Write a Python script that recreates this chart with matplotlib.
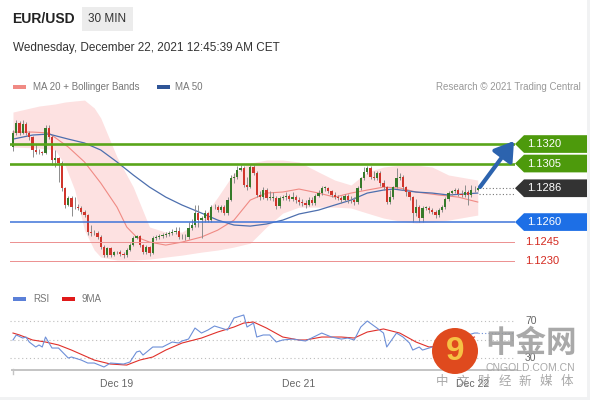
import numpy as np
import matplotlib.pyplot as plt
from matplotlib.patches import Polygon, Rectangle, Circle
from matplotlib.transforms import blended_transform_factory

plt.rcParams['font.family'] = ['Liberation Sans', 'DejaVu Sans']

# 30 min EUR/USD candles (open of each bar = previous close)
first_open = 1.13177
closes = [
    1.13285, 1.13362, 1.13285, 1.13354, 1.13285, 1.13254, 1.13154, 1.13138, 1.13138, 1.13131,
    1.13323, 1.13254, 1.13077, 1.13092, 1.13054, 1.12862, 1.12731, 1.12785, 1.12715, 1.12715,
    1.12708, 1.12677, 1.12654, 1.12523, 1.12515, 1.12515, 1.12485, 1.12408, 1.12346, 1.12400,
    1.12346, 1.12369, 1.12369, 1.12354, 1.12346, 1.12385, 1.12423, 1.12477, 1.12492, 1.12423,
    1.12369, 1.12408, 1.12362, 1.12477, 1.12485, 1.12492, 1.12500, 1.12508, 1.12515, 1.12523,
    1.12531, 1.12485, 1.12485, 1.12485, 1.12554, 1.12577, 1.12669, 1.12615, 1.12631, 1.12669,
    1.12615, 1.12715, 1.12715, 1.12692, 1.12715, 1.12669, 1.12769, 1.12938, 1.12946, 1.13000,
    1.13015, 1.12885, 1.12869, 1.13023, 1.12977, 1.12808, 1.12792, 1.12846, 1.12785, 1.12785,
    1.12785, 1.12723, 1.12785, 1.12792, 1.12800, 1.12777, 1.12792, 1.12769, 1.12754, 1.12746,
    1.12731, 1.12769, 1.12746, 1.12800, 1.12823, 1.12862, 1.12862, 1.12838, 1.12808, 1.12792,
    1.12785, 1.12769, 1.12800, 1.12769, 1.12769, 1.12754, 1.12862, 1.12938, 1.12985, 1.13015,
    1.12946, 1.12938, 1.12977, 1.12900, 1.12869, 1.12754, 1.12792, 1.12869, 1.12938, 1.12946,
    1.12869, 1.12831, 1.12792, 1.12669, 1.12715, 1.12631, 1.12708, 1.12708, 1.12692, 1.12677,
    1.12654, 1.12692, 1.12715, 1.12777, 1.12823, 1.12838, 1.12846, 1.12815, 1.12808, 1.12831,
    1.12808, 1.12846, 1.12850, 1.12865,
]
highs = [
    1.13310, 1.13385, 1.13380, 1.13385, 1.13370, 1.13300, 1.13265, 1.13200, 1.13160, 1.13150,
    1.13345, 1.13350, 1.13270, 1.13154, 1.13100, 1.13070, 1.12870, 1.12800, 1.12800, 1.12790,
    1.12740, 1.12720, 1.12690, 1.12660, 1.12577, 1.12540, 1.12530, 1.12500, 1.12420, 1.12410,
    1.12410, 1.12380, 1.12380, 1.12385, 1.12370, 1.12400, 1.12440, 1.12490, 1.12500, 1.12500,
    1.12430, 1.12420, 1.12415, 1.12490, 1.12500, 1.12510, 1.12515, 1.12525, 1.12530, 1.12545,
    1.12560, 1.12560, 1.12510, 1.12510, 1.12600, 1.12620, 1.12731, 1.12731, 1.12650, 1.12690,
    1.12680, 1.12730, 1.12740, 1.12730, 1.12730, 1.12730, 1.12790, 1.12960, 1.12980, 1.13030,
    1.13040, 1.13030, 1.12950, 1.13040, 1.13040, 1.12990, 1.12840, 1.12870, 1.12860, 1.12840,
    1.12830, 1.12800, 1.12800, 1.12810, 1.12830, 1.12815, 1.12830, 1.12805, 1.12790, 1.12780,
    1.12770, 1.12790, 1.12790, 1.12815, 1.12845, 1.12880, 1.12880, 1.12870, 1.12850, 1.12830,
    1.12810, 1.12800, 1.12815, 1.12815, 1.12800, 1.12790, 1.12880, 1.12950, 1.13023, 1.13031,
    1.13030, 1.12990, 1.12990, 1.12990, 1.12920, 1.12880, 1.12850, 1.12880, 1.13015, 1.12980,
    1.12960, 1.12880, 1.12840, 1.12800, 1.12780, 1.12730, 1.12720, 1.12725, 1.12725, 1.12710,
    1.12690, 1.12710, 1.12730, 1.12790, 1.12840, 1.12850, 1.12860, 1.12860, 1.12850, 1.12885,
    1.12850, 1.12885, 1.12880, 1.12880,
]
lows = [
    1.13150, 1.13270, 1.13270, 1.13275, 1.13270, 1.13230, 1.13100, 1.13120, 1.13120, 1.13115,
    1.13120, 1.13240, 1.13038, 1.13023, 1.12908, 1.12840, 1.12710, 1.12720, 1.12646, 1.12700,
    1.12690, 1.12660, 1.12640, 1.12500, 1.12490, 1.12500, 1.12470, 1.12390, 1.12331, 1.12331,
    1.12330, 1.12340, 1.12355, 1.12340, 1.12320, 1.12330, 1.12375, 1.12415, 1.12470, 1.12410,
    1.12355, 1.12355, 1.12340, 1.12355, 1.12465, 1.12470, 1.12480, 1.12485, 1.12490, 1.12500,
    1.12510, 1.12470, 1.12470, 1.12465, 1.12470, 1.12540, 1.12560, 1.12560, 1.12477, 1.12600,
    1.12600, 1.12600, 1.12700, 1.12680, 1.12680, 1.12654, 1.12654, 1.12760, 1.12900, 1.12930,
    1.12990, 1.12870, 1.12850, 1.12860, 1.12960, 1.12790, 1.12770, 1.12780, 1.12770, 1.12770,
    1.12760, 1.12700, 1.12710, 1.12770, 1.12770, 1.12760, 1.12760, 1.12750, 1.12730, 1.12720,
    1.12710, 1.12720, 1.12730, 1.12730, 1.12790, 1.12810, 1.12840, 1.12820, 1.12790, 1.12780,
    1.12770, 1.12750, 1.12760, 1.12750, 1.12750, 1.12730, 1.12740, 1.12850, 1.12920, 1.12970,
    1.12930, 1.12920, 1.12920, 1.12880, 1.12850, 1.12740, 1.12740, 1.12780, 1.12860, 1.12920,
    1.12850, 1.12800, 1.12770, 1.12600, 1.12650, 1.12600, 1.12600, 1.12690, 1.12670, 1.12660,
    1.12630, 1.12640, 1.12680, 1.12700, 1.12760, 1.12810, 1.12820, 1.12800, 1.12790, 1.12790,
    1.12731, 1.12790, 1.12830, 1.12840,
]

# moving averages / bollinger band, read at a few bars
ma20_idx = [0, 6, 11, 17, 22, 27, 32, 35, 38, 42, 47, 52, 58, 63, 68, 73, 78, 83, 88, 94,
            99, 104, 114, 119, 124, 131, 137, 143]
ma20 = [1.13292, 1.13292, 1.13285, 1.13177, 1.13062, 1.12900, 1.12715, 1.12562, 1.12485, 1.12446,
        1.12423, 1.12446, 1.12485, 1.12538, 1.12615, 1.12769, 1.12823, 1.12831, 1.12854, 1.12823,
        1.12792, 1.12823, 1.12869, 1.12862, 1.12831, 1.12808, 1.12792, 1.12754]
ma50_idx = [0, 6, 11, 17, 22, 27, 32, 37, 42, 47, 52, 58, 63, 68, 73, 78, 83, 88, 94, 99,
            104, 109, 114, 117, 124, 129, 134, 143]
ma50 = [1.13238, 1.13269, 1.13277, 1.13238, 1.13208, 1.13154, 1.13062, 1.12962, 1.12869, 1.12792,
        1.12731, 1.12669, 1.12615, 1.12577, 1.12569, 1.12585, 1.12615, 1.12662, 1.12692, 1.12731,
        1.12769, 1.12823, 1.12846, 1.12854, 1.12831, 1.12823, 1.12808, 1.12823]
band_idx = [0, 8, 13, 16, 19, 22, 25, 27, 32, 37, 42, 47, 52, 58, 63, 68, 73, 78, 83, 88,
            94, 99, 104, 109, 114, 119, 124, 129, 134, 143]
band_up = [1.13446, 1.13492, 1.13508, 1.13523, 1.13531, 1.13538, 1.13477, 1.13400, 1.13100, 1.12869,
           1.12562, 1.12523, 1.12523, 1.12615, 1.12792, 1.12977, 1.13054, 1.13077, 1.13077, 1.13062,
           1.12985, 1.12923, 1.12885, 1.12985, 1.13023, 1.13038, 1.13038, 1.13023, 1.12962, 1.12923]
band_lo = [1.13177, 1.13169, 1.13154, 1.13038, 1.12846, 1.12538, 1.12385, 1.12331, 1.12308, 1.12308,
           1.12315, 1.12331, 1.12346, 1.12369, 1.12385, 1.12408, 1.12438, 1.12562, 1.12669, 1.12715,
           1.12715, 1.12715, 1.12708, 1.12669, 1.12631, 1.12608, 1.12592, 1.12600, 1.12615, 1.12654]

# RSI and its 9 period MA
rsi_idx = [0, 1, 3, 4, 5, 7, 8, 9, 10, 12, 14, 17, 18, 21, 23, 25, 28, 30, 34, 36,
           38, 39, 40, 43, 46, 49, 51, 52, 54, 56, 58, 60, 62, 64, 66, 68, 69, 71, 72, 74,
           75, 77, 79, 81, 83, 86, 90, 95, 98, 101, 103, 105, 107, 109, 112, 114, 115, 118, 120, 122,
           123, 125, 126, 128, 131, 136, 139, 142, 143]
rsi = [49.5, 54.9, 51.6, 52.7, 47.3, 41.9, 44.1, 41.9, 52.7, 40.8, 40.8, 30.0, 31.1, 27.8, 24.6,
       24.6, 20.3, 24.6, 23.5, 25.7, 36.5, 37.6, 33.2, 41.9, 41.9, 47.3, 46.2, 48.4, 50.5, 62.4,
       57.0, 60.3, 64.6, 62.4, 60.3, 73.2, 74.3, 76.5, 63.5, 67.8, 52.7, 54.9, 54.9, 47.3, 49.5,
       50.5, 48.4, 57.0, 52.7, 50.5, 51.6, 49.5, 63.5, 70.0, 62.4, 57.0, 41.9, 57.0, 52.7, 46.2,
       38.6, 41.9, 38.6, 40.8, 44.0, 49.5, 53.8, 57.0, 57.0]
rsi_ma_idx = [0, 2, 6, 10, 14, 18, 25, 30, 35, 39, 43, 47, 52, 58, 63, 68, 71, 74, 78, 83,
              88, 90, 95, 101, 105, 109, 114, 119, 124, 128, 134, 142]
rsi_ma = [57.0, 54.9, 49.5, 47.3, 44.1, 38.6, 27.8, 23.5, 22.4, 27.8, 31.1, 38.6, 46.2, 51.6, 58.1,
          63.5, 67.8, 68.9, 62.4, 52.7, 49.5, 49.5, 52.7, 52.7, 51.6, 58.1, 61.4, 57.0, 47.3, 41.9,
          44.1, 52.7]

day_idx = [32, 88, 141.5]
day_labels = ['Dec 19', 'Dec 21', 'Dec 22']

resistances = [1.1320, 1.1305]
pivot = 1.1260
supports = [1.1245, 1.1230]
last_price = 1.1286

W, H = 590, 400
fig = plt.figure(figsize=(W / 100, H / 100), dpi=100)
fig.patch.set_facecolor('white')


def px_axes(x0, y0, x1, y1):
    return fig.add_axes([x0 / W, 1 - y1 / H, (x1 - x0) / W, (y1 - y0) / H])


bg = px_axes(0, 0, W, H)
bg.set_xlim(0, W); bg.set_ylim(H, 0); bg.axis('off')
ax = px_axes(10, 95, 515, 275)
ax2 = px_axes(10, 305, 515, 372)
fg = px_axes(0, 0, W, H)
fg.set_xlim(0, W); fg.set_ylim(H, 0); fg.axis('off')
fg.patch.set_alpha(0)

# frame
bg.add_patch(Rectangle((587, 0), 3, H, color='#f1f2f3', lw=0))
bg.add_patch(Rectangle((0, 397), W, 3, color='#f1f2f3', lw=0))

xl = ((10 - 13) / 3.25, (515 - 13) / 3.25)
for a in (ax, ax2):
    a.set_xlim(*xl)
    a.patch.set_alpha(0)
    for s in a.spines.values():
        s.set_visible(False)
    a.set_yticks([])
ax.set_xticks([])
ax.set_ylim(1.12193, 1.13577)
ax2.set_ylim(14.9, 87.3)

# price panel
closes = np.array(closes)
opens = np.r_[first_open, closes[:-1]]
idx = np.arange(len(closes))
up = closes >= opens
ax.fill_between(band_idx, band_lo, band_up, color='#fde1e1', lw=0, zorder=1)
ax.plot(ma20_idx, ma20, color='#f08a84', lw=0.8, zorder=2)
ax.plot(ma50_idx, ma50, color='#4d6fae', lw=0.9, zorder=2)
ax.vlines(idx, lows, highs, color='#8c8c8c', lw=0.7, zorder=3)
ax.bar(idx, np.maximum(np.abs(closes - opens), 0.00004), bottom=np.minimum(opens, closes),
       width=0.7, color=np.where(up, '#367a2a', '#d0352c'), lw=0, zorder=4)

for r in resistances:
    ax.axhline(r, color='#5aa51a', lw=1.9, zorder=5)
ax.axhline(pivot, color='#3f74d8', lw=1.1, zorder=5)
for s in supports:
    ax.axhline(s, color='#ec8f8f', lw=0.7, zorder=5)
ax.hlines([last_price, 1.12815], idx[-1] + 0.5, xl[1], color='#777777', lw=0.8,
          linestyles=(0, (1, 2)), zorder=5)

# RSI panel
for v in (70, 50, 30):
    ax2.axhline(v, color='#bdbdbd', lw=0.8, ls=(0, (1, 2.5)))
ax2.plot(rsi_ma_idx, rsi_ma, color='#e0302a', lw=0.8)
ax2.plot(rsi_idx, rsi, color='#6d8fd8', lw=0.8)
ax2.hlines(rsi[-1], rsi_idx[-1], xl[1], color='#6d8fd8', lw=0.8, linestyles=(0, (1, 2)))
ax2.set_xticks(day_idx)
ax2.set_xticklabels(day_labels)
ax2.tick_params(axis='x', length=0, pad=5, labelsize=7.5, labelcolor='#666666')

fg.plot([12, 517], [369.5, 369.5], color='#c4c4c4', lw=1.4)
fg.plot([12.5, 12.5], [369, 374], color='#c4c4c4', lw=1)

# right side tags
tp = blended_transform_factory(fg.transData, ax.transData)
tr = blended_transform_factory(fg.transData, ax2.transData)
hh = 0.00068
tags = [(resistances[0], '#4d9a0c'), (resistances[1], '#4d9a0c'),
        (last_price, '#333333'), (pivot, '#1d6fe6')]
for val, col in tags:
    fg.add_patch(Polygon([(515, val), (524, val + hh), (587, val + hh), (587, val - hh),
                          (524, val - hh)], closed=True, transform=tp, color=col, lw=0,
                         clip_on=False))
    fg.text(527, val, f'{val:.4f}', transform=tp, color='white', fontsize=8,
            va='center', ha='left')
for val in supports:
    fg.text(525, val, f'{val:.4f}', transform=tp, color='#d42a20', fontsize=8,
            va='center', ha='left')
for v in (70, 30):
    fg.text(525, v, str(v), transform=tr, color='#666666', fontsize=7.5, va='center')

fg.annotate('', xy=(514, 141), xytext=(480, 187),
            arrowprops=dict(arrowstyle='-|>,head_length=0.7,head_width=0.45', color='#2c63ae',
                            lw=3, mutation_scale=16, shrinkA=0, shrinkB=0))

# header
fg.text(12, 19, 'EUR/USD', fontsize=10, fontweight='bold', color='#222222', va='center')
fg.add_patch(Rectangle((82, 7), 51, 24, color='#ececec', lw=0))
fg.text(107.5, 19, '30 MIN', fontsize=8.5, color='#333333', va='center', ha='center')
fg.text(13, 48, 'Wednesday, December 22, 2021 12:45:39 AM CET', fontsize=8.5,
        color='#333333', va='center')

fg.add_patch(Rectangle((13, 85), 13, 4, color='#f08a84', lw=0))
fg.text(33, 86.5, 'MA 20 + Bollinger Bands', fontsize=7, color='#777777', va='center')
fg.add_patch(Rectangle((157, 85), 13, 4, color='#2f5597', lw=0))
fg.text(175, 86.5, 'MA 50', fontsize=7, color='#777777', va='center')
fg.text(581, 86.5, 'Research \u00a9 2021 Trading Central', fontsize=7, color='#999999',
        va='center', ha='right')

fg.add_patch(Rectangle((13, 297), 13, 4, color='#5b80d8', lw=0))
fg.text(33, 299, 'RSI', fontsize=7, color='#777777', va='center')
fg.add_patch(Rectangle((62, 297), 13, 4, color='#e01a1a', lw=0))
fg.text(82, 299, '9MA', fontsize=7, color='#777777', va='center')

# watermark
cjk = ['Noto Sans CJK SC', 'DejaVu Sans']
fg.add_patch(Circle((455, 351), 23, color='#df4a1e', lw=0, zorder=6))
fg.text(455, 352, '9', fontsize=24, fontweight='bold', color='#f6c244', ha='center',
        va='center', zorder=7)
fg.text(531, 343, '中金网', family=cjk, fontsize=22, fontweight='bold', color='#9a9a9a',
        alpha=0.85, ha='center', va='center', zorder=7)
fg.text(530, 368, 'CNGOLD.COM.CN', fontsize=7.5, color='#a8a8a8', ha='center',
        va='center', zorder=7)
for k, ch in enumerate('中文财经新媒体'):
    fg.text(442 + 20.8 * k, 381, ch, family=cjk, fontsize=9, color='#9a9a9a', alpha=0.85,
            ha='center', va='center', zorder=7)

fig.savefig('out.png', dpi=100, facecolor=fig.get_facecolor())
